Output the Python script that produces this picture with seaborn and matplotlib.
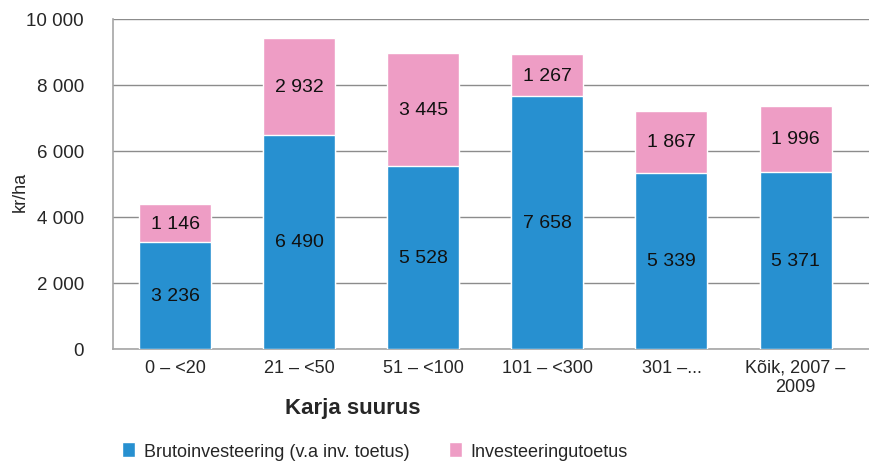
import seaborn as sns
import matplotlib.pyplot as plt
import pandas as pd

# data
categories = ["0 – <20", "21 – <50", "51 – <100", "101 – <300", "301 –...", "Kõik, 2007 –\n2009"]
bruto = [3236, 6490, 5528, 7658, 5339, 5371]
toetus = [1146, 2932, 3445, 1267, 1867, 1996]
series_names = ["Brutoinvesteering (v.a inv. toetus)", "Investeeringutoetus"]

blue = "#2790d0"
pink = "#ee9dc5"


def fmt(v):
    return f"{v:,}".replace(",", " ")


df = pd.DataFrame({"cat": categories, "bruto": bruto, "toetus": toetus})
df["total"] = df["bruto"] + df["toetus"]

sns.set_theme(style="white")
plt.rcParams["font.family"] = ["Liberation Sans", "DejaVu Sans"]

fig = plt.figure(figsize=(8.7, 4.64), dpi=100)
ax = fig.add_axes([0.130, 0.246, 0.870, 0.711])

# stacked look: total first (pink), then the blue part on top of it
sns.barplot(data=df, x="cat", y="total", color=pink, width=0.58,
            saturation=1, ax=ax, label=series_names[1], zorder=2)
sns.barplot(data=df, x="cat", y="bruto", color=blue, width=0.58,
            saturation=1, ax=ax, label=series_names[0], zorder=3)

for i, row in df.iterrows():
    ax.text(i, row["bruto"] / 2, fmt(row["bruto"]), ha="center", va="center",
            fontsize=14, color="#111111", zorder=4)
    ax.text(i, row["bruto"] + row["toetus"] / 2, fmt(row["toetus"]),
            ha="center", va="center", fontsize=14, color="#111111", zorder=4)

ax.set_ylim(0, 10000)
ax.set_xlim(-0.5, 5.6)
ax.set_yticks(range(0, 10001, 2000))
ax.set_yticklabels([fmt(v) for v in range(0, 10001, 2000)], fontsize=13.5)
ax.tick_params(axis="x", labelsize=13, length=0, pad=7)
ax.tick_params(axis="y", length=0, pad=21)
ax.yaxis.grid(True, color="#8c8c8c", linewidth=1)
ax.set_axisbelow(True)
for side in ["top", "right"]:
    ax.spines[side].set_visible(False)
for side in ["left", "bottom"]:
    ax.spines[side].set_color("#a6a6a6")
    ax.spines[side].set_linewidth(1.2)

ax.set_ylabel("kr/ha", fontsize=13)
ax.yaxis.set_label_coords(-0.111, 0.48)
ax.set_xlabel("Karja suurus", fontsize=16, fontweight="bold")
ax.xaxis.set_label_coords(0.316, -0.145)

# legend below the plot, blue series first
handles, labels = ax.get_legend_handles_labels()
if ax.get_legend() is not None:
    ax.get_legend().remove()
order = [labels.index(n) for n in series_names]
fig.legend([handles[k] for k in order], [labels[k] for k in order],
           loc="lower left", bbox_to_anchor=(0.128, -0.016), ncol=2,
           frameon=False, fontsize=13, handlelength=0.7, handleheight=0.9,
           handletextpad=0.5, columnspacing=2.2, borderpad=0.1)

fig.savefig("out.png", dpi=100)
plt.close(fig)
